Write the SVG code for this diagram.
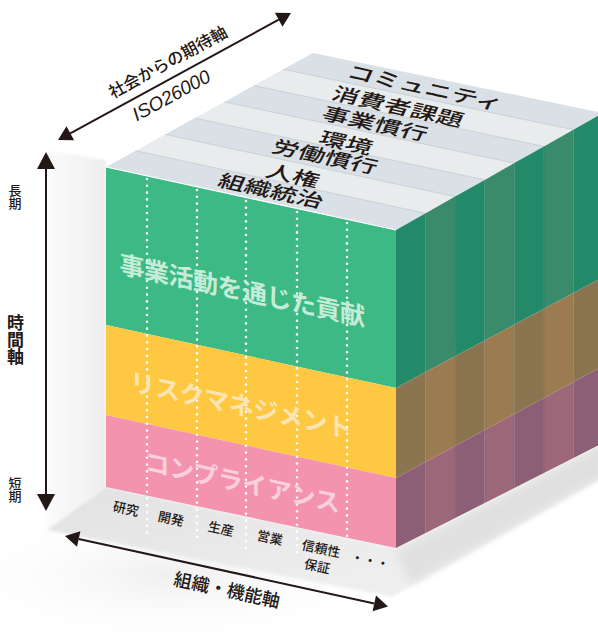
<svg xmlns="http://www.w3.org/2000/svg" width="598" height="633" viewBox="0 0 598 633">
<defs>
<style>
.jp{font-family:"Noto Sans CJK JP","Noto Sans",sans-serif;fill:#231815}
.top{font-size:20px;font-weight:500}
.front{font-size:25px;font-weight:700;fill:#ffffff}
.col{font-size:13px;font-weight:500}
.vert{writing-mode:vertical-rl;text-orientation:upright}
.st0{fill:#d9e1e7}
.st1{fill:#e9ecec}
.sep{stroke:#c2c9cf;stroke-width:0.8;fill:none}
.g0{fill:#238a69}.g1{fill:#398b6c}
.o0{fill:#8b7450}.o1{fill:#9c7b50}
.p0{fill:#8d5f76}.p1{fill:#9b6779}
.vline{stroke:#000;stroke-opacity:0.12;stroke-width:0.8}
.dots{stroke:#ffffff;stroke-width:2.6;stroke-linecap:round;stroke-dasharray:0 6.8;fill:none}
.ax{stroke:#231815;stroke-width:2;fill:none}
.ah{fill:#231815}
</style>
<linearGradient id="floorGrad" x1="0" y1="0" x2="1" y2="1">
<stop offset="0" stop-color="#dedede"/>
<stop offset="1" stop-color="#f4f4f4"/>
</linearGradient>
<linearGradient id="wallGrad" x1="0" y1="0" x2="1" y2="0">
<stop offset="0" stop-color="#f6f6f6" stop-opacity="0.5"/>
<stop offset="1" stop-color="#ededed"/>
</linearGradient>
<radialGradient id="glow" cx="0.5" cy="0.5" r="0.5">
<stop offset="0" stop-color="#efefef"/>
<stop offset="1" stop-color="#ffffff" stop-opacity="0"/>
</radialGradient>
<filter id="blur" x="-20%" y="-20%" width="140%" height="140%"><feGaussianBlur stdDeviation="4"/></filter>
<filter id="blur2" x="-20%" y="-20%" width="140%" height="140%"><feGaussianBlur stdDeviation="1.5"/></filter>
</defs>
<rect width="598" height="633" fill="#ffffff"/>

<g id="floor">
<ellipse cx="170" cy="575" rx="230" ry="75" fill="url(#glow)"/>
<polygon points="47,150 106,160 106,487 47,530" fill="url(#wallGrad)" filter="url(#blur2)"/>
<polygon points="47,530 106,487 396,548 603,443 603,478 392,597" fill="url(#floorGrad)" filter="url(#blur2)"/>
<polygon points="396,552 603,447 603,475 410,585" fill="#d8d8d8" opacity="0.6" filter="url(#blur)"/>
</g>

<g id="cube-top">
<polygon class="st0" points="106,167 396,230 425.6,213.3 135.6,150.7"/>
<polygon class="st1" points="135.6,150.7 425.6,213.3 455.1,196.6 165.1,134.4"/>
<polygon class="st0" points="165.1,134.4 455.1,196.6 484.7,179.9 194.7,118.1"/>
<polygon class="st1" points="194.7,118.1 484.7,179.9 514.3,163.1 224.3,101.9"/>
<polygon class="st0" points="224.3,101.9 514.3,163.1 543.9,146.4 253.9,85.6"/>
<polygon class="st1" points="253.9,85.6 543.9,146.4 573.4,129.7 283.4,69.3"/>
<polygon class="st0" points="283.4,69.3 573.4,129.7 603,113 313,53"/>
<path class="sep" d="M135.6,150.7 L425.6,213.3 M165.1,134.4 L455.1,196.6 M194.7,118.1 L484.7,179.9 M224.3,101.9 L514.3,163.1 M253.9,85.6 L543.9,146.4 M283.4,69.3 L573.4,129.7"/>
</g>

<g id="cube-right">
<polygon class="g0" points="396,230 425.6,213.3 425.6,372.1 396,388"/>
<polygon class="g1" points="425.6,213.3 455.1,196.6 455.1,356.3 425.6,372.1"/>
<polygon class="g0" points="455.1,196.6 484.7,179.9 484.7,340.4 455.1,356.3"/>
<polygon class="g1" points="484.7,179.9 514.3,163.1 514.3,324.6 484.7,340.4"/>
<polygon class="g0" points="514.3,163.1 543.9,146.4 543.9,308.7 514.3,324.6"/>
<polygon class="g1" points="543.9,146.4 573.4,129.7 573.4,292.9 543.9,308.7"/>
<polygon class="g0" points="573.4,129.7 603,113 603,277 573.4,292.9"/>
<polygon class="o0" points="396,388 425.6,372.1 425.6,462 396,478"/>
<polygon class="o1" points="425.6,372.1 455.1,356.3 455.1,446 425.6,462"/>
<polygon class="o0" points="455.1,356.3 484.7,340.4 484.7,430 455.1,446"/>
<polygon class="o1" points="484.7,340.4 514.3,324.6 514.3,414 484.7,430"/>
<polygon class="o0" points="514.3,324.6 543.9,308.7 543.9,398 514.3,414"/>
<polygon class="o1" points="543.9,308.7 573.4,292.9 573.4,382 543.9,398"/>
<polygon class="o0" points="573.4,292.9 603,277 603,366 573.4,382"/>
<polygon class="p0" points="396,478 425.6,462 425.6,533 396,548"/>
<polygon class="p1" points="425.6,462 455.1,446 455.1,518 425.6,533"/>
<polygon class="p0" points="455.1,446 484.7,430 484.7,503 455.1,518"/>
<polygon class="p1" points="484.7,430 514.3,414 514.3,488 484.7,503"/>
<polygon class="p0" points="514.3,414 543.9,398 543.9,473 514.3,488"/>
<polygon class="p1" points="543.9,398 573.4,382 573.4,458 543.9,473"/>
<polygon class="p0" points="573.4,382 603,366 603,443 573.4,458"/>
<path class="vline" d="M425.6,213.3 V533 M455.1,196.6 V518 M484.7,179.9 V503 M514.3,163.1 V488 M543.9,146.4 V473 M573.4,129.7 V458"/>
</g>

<g id="cube-front">
<polygon fill="#3cb985" points="106,167 396,230 396,388 106,325"/>
<polygon fill="#fec843" points="106,325 396,388 396,478 106,415"/>
<polygon fill="#f393ae" points="106,415 396,478 396,548 106,487"/>
<line x1="106" y1="167" x2="396" y2="230" stroke="#ffffff" stroke-width="1.2"/>
</g>

<g id="column-dividers">
<line class="dots" x1="147" y1="179" x2="147" y2="533"/>
<line class="dots" x1="197" y1="190" x2="197" y2="542"/>
<line class="dots" x1="246" y1="201" x2="246" y2="548"/>
<line class="dots" x1="297" y1="212" x2="297" y2="555"/>
<line class="dots" x1="347" y1="223" x2="347" y2="542"/>
</g>

<g id="layer-labels">
<g id="label-contribution" transform="translate(242,290) skewY(12.24)"><text class="jp front" x="0" y="9.5" text-anchor="middle" letter-spacing="-0.5" style="fill:#c6ecd8">事業活動を通じた貢献</text></g>
<g id="label-risk" transform="translate(241,405) skewY(12.24)"><text class="jp front" x="0" y="9.5" text-anchor="middle" letter-spacing="-0.4" style="fill:#fde5b3">リスクマネジメント</text></g>
<g id="label-compliance" transform="translate(242,482) skewY(12.24)"><text class="jp front" x="0" y="9.5" text-anchor="middle" letter-spacing="-0.4" style="fill:#fad0dc">コンプライアンス</text></g>
</g>

<g id="iso-labels">
<g id="iso-governance" transform="matrix(1.3 0.282 -0.38 0.85 271 191)"><text class="jp top" x="0" y="7" text-anchor="middle">組織統治</text></g>
<g id="iso-human-rights" transform="matrix(1.3 0.282 -0.38 0.85 293 176)"><text class="jp top" x="0" y="7" text-anchor="middle">人権</text></g>
<g id="iso-labour" transform="matrix(1.3 0.282 -0.38 0.85 325 157)"><text class="jp top" x="0" y="7" text-anchor="middle">労働慣行</text></g>
<g id="iso-environment" transform="matrix(1.3 0.282 -0.38 0.85 346 143)"><text class="jp top" x="0" y="7" text-anchor="middle">環境</text></g>
<g id="iso-fair-operating" transform="matrix(1.3 0.282 -0.38 0.85 375 124)"><text class="jp top" x="0" y="7" text-anchor="middle">事業慣行</text></g>
<g id="iso-consumer" transform="matrix(1.3 0.282 -0.38 0.85 398 107)"><text class="jp top" x="0" y="7" text-anchor="middle">消費者課題</text></g>
<g id="iso-community" transform="matrix(1.3 0.282 -0.38 0.85 425 88)"><text class="jp top" x="0" y="7" text-anchor="middle">コミュニティ</text></g>
</g>

<g id="function-labels">
<g id="fn-research" transform="translate(126,509) rotate(12)"><text class="jp col" x="0" y="4.5" text-anchor="middle">研究</text></g>
<g id="fn-development" transform="translate(171,519) rotate(12)"><text class="jp col" x="0" y="4.5" text-anchor="middle">開発</text></g>
<g id="fn-production" transform="translate(221,529) rotate(12)"><text class="jp col" x="0" y="4.5" text-anchor="middle">生産</text></g>
<g id="fn-sales" transform="translate(270,538) rotate(12)"><text class="jp col" x="0" y="4.5" text-anchor="middle">営業</text></g>
<g id="fn-qa" transform="translate(321,549) rotate(12)"><text class="jp col" x="0" y="4.5" text-anchor="middle">信頼性</text><text class="jp col" x="0" y="22.5" text-anchor="middle">保証</text></g>
<g id="fn-more" transform="translate(370,561) rotate(12)"><text class="jp col" x="0" y="4.5" text-anchor="middle">・・・</text></g>
</g>

<g id="connectors">
<line class="ax" x1="70.3" y1="133.3" x2="278.7" y2="19.7"/>
<polygon class="ah" points="58,140 74.1,140.3 66.5,126.3"/>
<polygon class="ah" points="291,13 282.5,26.7 274.9,12.7"/>
<line class="ax" x1="46" y1="166" x2="46" y2="497"/>
<polygon class="ah" points="46,152 37,169 55,169"/>
<polygon class="ah" points="46,511 37,494 55,494"/>
<line class="ax" x1="78.7" y1="539" x2="374.3" y2="603.4"/>
<polygon class="ah" points="65,536 77,546.8 80.4,531.2"/>
<polygon class="ah" points="388,606.4 372.6,611.2 376,595.6"/>
</g>

<g id="axis-labels">
<g id="axis-society" transform="translate(168,62) rotate(-28.5)"><text class="jp" x="0" y="6" text-anchor="middle" font-size="16.5" font-weight="500">社会からの期待軸</text></g>
<g id="axis-iso" transform="translate(171,95) rotate(-28.5)"><text x="0" y="7" text-anchor="middle" font-family="Liberation Sans, Arial, sans-serif" font-size="19" font-style="italic" fill="#231815">ISO26000</text></g>
<g id="axis-time">
<text class="jp vert" x="15" y="184" font-size="13" font-weight="500">長期</text>
<text class="jp vert" x="15.5" y="314" font-size="17" font-weight="700">時間軸</text>
<text class="jp vert" x="15" y="477" font-size="13" font-weight="500">短期</text>
</g>
<g id="axis-organization" transform="translate(227,590) rotate(12.2)"><text class="jp" x="0" y="6.5" text-anchor="middle" font-size="18" font-weight="500">組織・機能軸</text></g>
</g>
</svg>
